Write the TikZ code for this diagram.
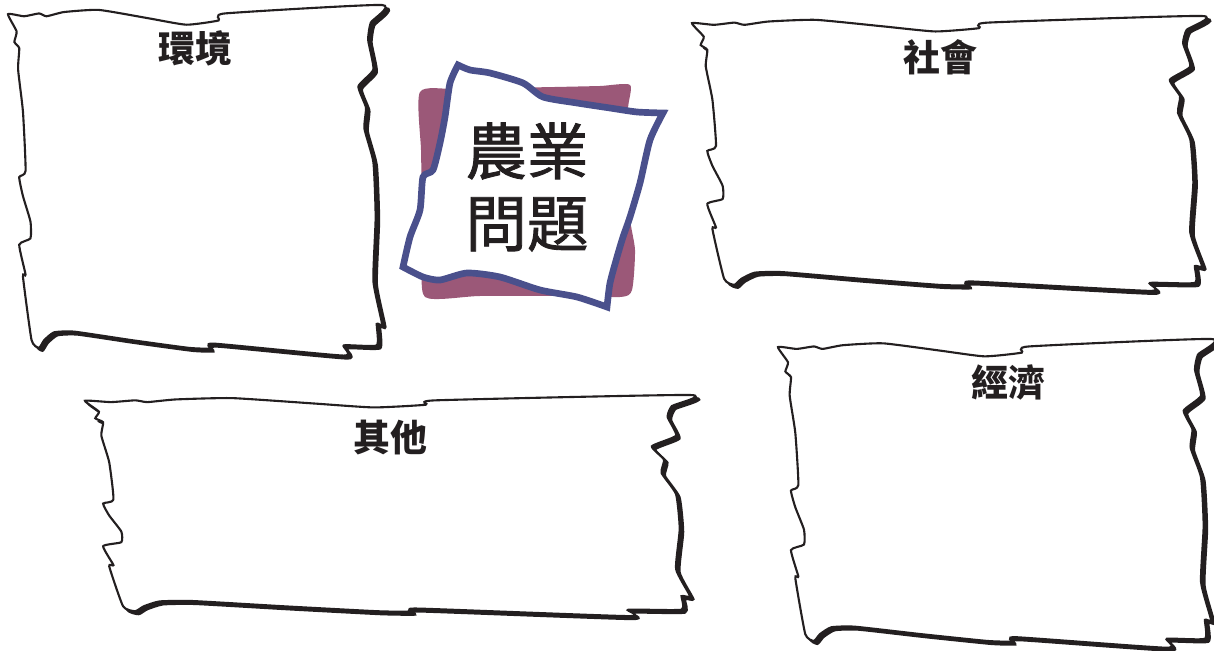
\documentclass[tikz,border=0pt]{standalone}
\usepackage{fontspec}
\newfontfamily\cjk{Noto Sans CJK TC}
\newfontfamily\cjkgras[FakeBold=1.4]{Noto Sans CJK TC}
\definecolor{prune}{RGB}{155,88,120}
\definecolor{encre}{RGB}{74,80,140}
\definecolor{noir}{RGB}{35,31,32}
% contour of a torn sheet, in a 100 x 100 box
\def\contour{plot[smooth cycle, tension=0.3] coordinates {
  (0,2.6) (4.3,3.2) (8.3,2.4) (10.3,3.2) (15,2) (24.3,1.4) (37.7,3.8)
  (47.7,5.6) (56.3,4.4) (58,2.4) (100,0)
  (97,5) (96.3,9.9) (97.7,18.3) (93.7,23.1) (95.7,29.1) (95.3,35.1)
  (97.7,44.7) (98.3,60.3) (97.7,78.4) (100,90.6) (98.6,90.6) (98.6,96.7)
  (89.8,96.7) (89.8,99.6)
  (55,96.2) (54,97.6) (48.3,97.4) (33,95.2) (17.7,92.8) (12.3,93)
  (9.7,95.2) (8.3,97.4)
  (6.3,95.2) (4,77.2) (4.7,76.6) (3,68.1) (6,66.3) (6,61.5) (4,54.3)
  (3,48.9) (4.7,47.1) (4,30.3) (2.7,18.3) (3,12.3) (1.7,10.5) (2.3,7.5)}}
% sheet: x, y, width, height
\newcommand\feuille[4]{%
  \begin{scope}[shift={(#1+3.5,#2+3)}, xscale=#3/100, yscale=#4/100]
    \filldraw[noir, line width=1.2pt] \contour;
  \end{scope}
  \begin{scope}[shift={(#1,#2)}, xscale=#3/100, yscale=#4/100]
    \filldraw[fill=white, draw=noir, line width=1.2pt] \contour;
  \end{scope}}

\begin{document}
\begin{tikzpicture}[x=0.02cm, y=-0.02cm,
  titre/.style={text=noir, font=\cjk\bfseries\fontsize{21}{25}\selectfont}]
\useasboundingbox (0,0) rectangle (1214,651);

\feuille{8}{5}{374}{352}
\feuille{692}{16}{510}{276}
\feuille{85}{395}{605}{222}
\feuille{778}{339}{433}{310}

\node[titre] (env) at (195,48) {環境};
\node[titre] (soc) at (940,57) {社會};
\node[titre] (autre) at (390,438) {其他};
\node[titre] (eco) at (1008,382) {經濟};

% centre
\fill[prune] plot[smooth cycle, tension=0.4] coordinates {
  (420,92) (458,89) (555,87) (600,86) (630,85) (628,110) (632,160)
  (630,217) (635,250) (632,290) (620,297) (560,296) (480,296) (425,297)
  (423,250) (422,200) (421,150)};
\filldraw[fill=white, draw=encre, line width=3.8pt, line join=miter]
  plot[smooth, tension=0.4] coordinates {(458,65) (470,70) (490,73) (523,83)
    (543,97) (577,103) (610,108) (637,112) (663,113)}
  -- plot[smooth, tension=0.4] coordinates {(663,113) (650,140) (640,183)
    (630,217) (623,237) (617,257) (610,283) (607,307)}
  -- plot[smooth, tension=0.4] coordinates {(607,307) (577,297) (540,290)
    (500,277) (467,273) (440,280) (423,277) (403,267)}
  -- plot[smooth, tension=0.4] coordinates {(403,267) (410,237) (420,210)
    (423,177) (433,170) (440,143) (445,117) (450,83) (458,65)}
  -- cycle;
\node[align=center, text=noir, font=\cjkgras\fontsize{35}{41}\selectfont] (sujet) at (527,187) {農業\\問題};
\end{tikzpicture}
\end{document}
